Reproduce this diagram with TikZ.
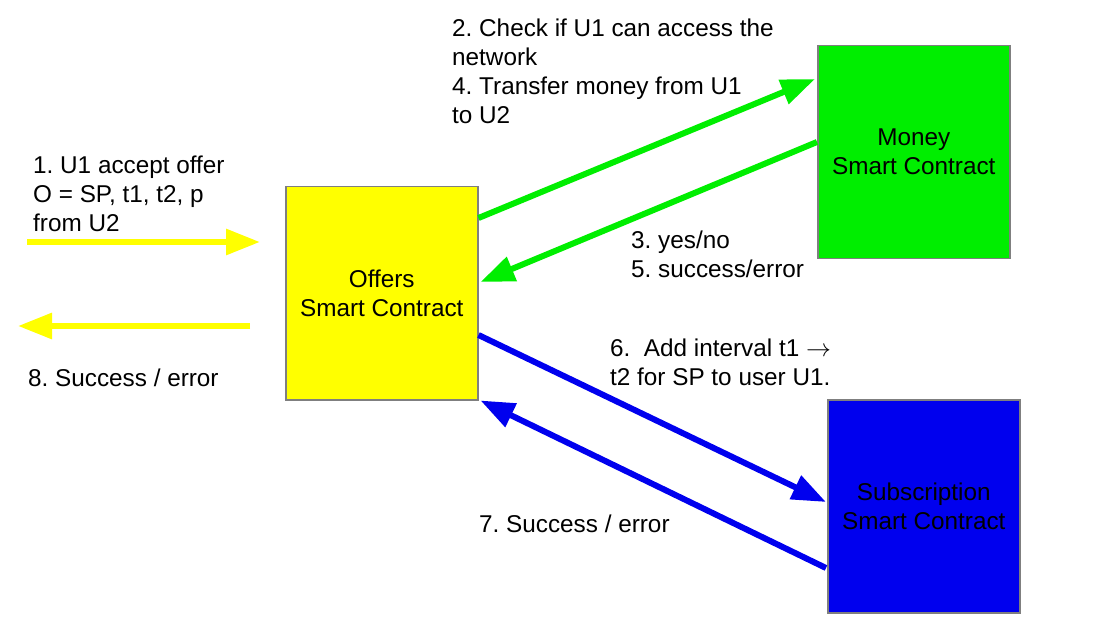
\documentclass[tikz,border=0pt]{standalone}
\usepackage{fontspec}
\setmainfont{Liberation Sans}
\usetikzlibrary{arrows.meta}
\definecolor{yel}{HTML}{FFFF00}
\definecolor{grn}{HTML}{00EE00}
\definecolor{blu}{HTML}{0000EE}
\definecolor{brd}{HTML}{7F7F7F}
\frenchspacing
\begin{document}
\begin{tikzpicture}[x=1pt,y=-1pt,
  every node/.style={font=\fontsize{24.3}{29}\selectfont},
  box/.style={draw=brd,line width=1.5pt,minimum width=192pt,minimum height=213pt,inner sep=0pt,align=center,anchor=north west},
  lbl/.style={anchor=north west,align=left,inner sep=0pt},
  conn/.style={line width=6pt,-{Triangle[length=34pt,width=25pt]}}]
\useasboundingbox (0,0) rectangle (1119,636);
% boxes
\node[box,fill=yel] (offers) at (285,186) {Offers\\Smart Contract};
\node[box,fill=grn] (money) at (817,45) {Money\\Smart Contract};
\node[box,fill=blu] (sub) at (827,399) {Subscription\\Smart Contract};
% yellow free-end coordinates
\coordinate (yin) at (27,242);
\coordinate (yinend) at (260,242);
\coordinate (yout) at (250,326);
\coordinate (youtend) at (18,326);
% connectors
\draw[conn,yel] (yin) -- (yinend);
\draw[conn,yel] (yout) -- (youtend);
\draw[conn,grn] ([yshift=-32pt]offers.north east) -- ([yshift=-34pt,xshift=-2pt]money.north west);
\draw[conn,grn] ([yshift=-97pt]money.north west) -- ([yshift=-96pt,xshift=2pt]offers.north east);
\draw[conn,blu] ([yshift=-149pt]offers.north east) -- ([yshift=-103pt,xshift=-1pt]sub.north west);
\draw[conn,blu] ([yshift=-169pt,xshift=-1pt]sub.north west) -- ([xshift=2pt]offers.south east);
% labels
\node[lbl] (l1) at (33,156) {1. U1 accept offer\\O = SP, t1, t2, p\\from U2};
\node[lbl] (l8) at (28,369) {8. Success / error};
\node[lbl] (l2) at (452,19) {2. Check if U1 can access the\\network\\4. Transfer money from U1\\to U2};
\node[lbl] (l3) at (631,231) {3. yes/no\\5. success/error};
\node[lbl] (l6) at (610,339) {6.\ \ Add interval t1 $\rightarrow$\\t2 for SP to user U1.};
\node[lbl] (l7) at (479,515) {7. Success / error};
\end{tikzpicture}
\end{document}
